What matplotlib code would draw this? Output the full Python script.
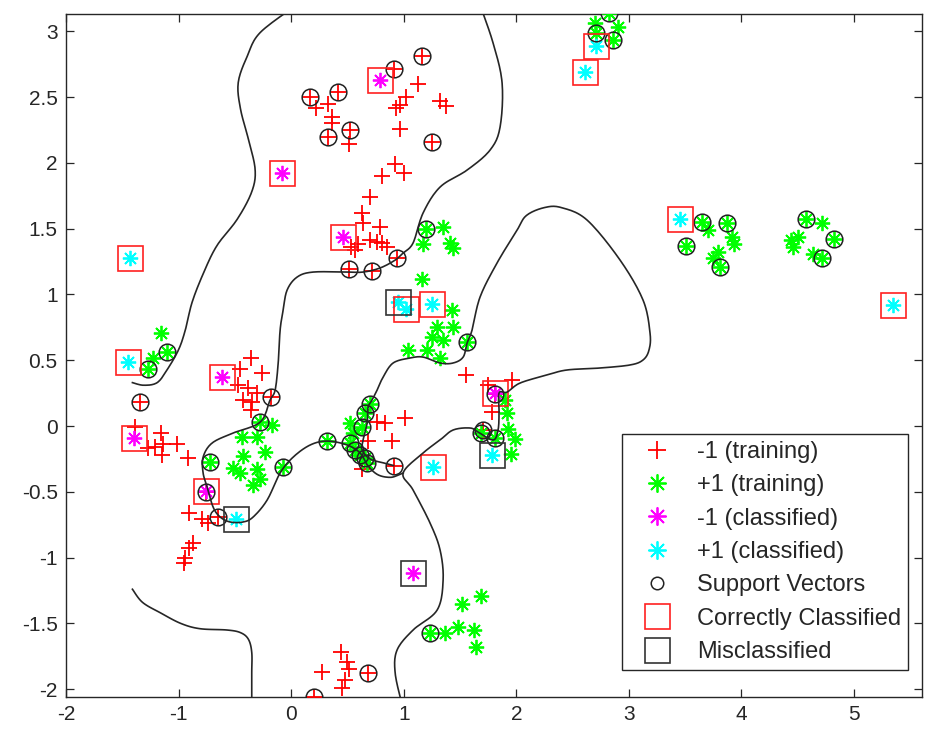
import matplotlib
matplotlib.use("Agg")
import matplotlib.pyplot as plt
from matplotlib.lines import Line2D
import numpy as np

# ---------------- data ----------------
# -1 training points
red_x = [0.17, 0.42, 0.33, 0.52, 0.91, 1.16, 1.25, 0.22, 0.33, 0.36, 0.36, 0.51, 1.13, 1.02, 0.93, 0.97,
         0.97, 1.32, 1.38, 0.92, 1.00, 0.81, 0.70, 0.63, 0.64, 0.79, 0.70, 0.76, 0.81, 0.85, 0.53, 0.57,
         0.59, 0.94, 0.51, 0.72,
         -0.36, -0.45, -0.26, -0.47, -0.38, -0.30, -0.43, -0.35, -0.36, -0.18,
         -1.39, -1.16, -1.27, -1.21, -1.14, -1.01, -1.15, -0.92, -1.34,
         -0.91, -0.79, -0.74, -0.65, -0.87, -0.91, -0.94, -0.95, -0.76,
         0.83, 1.01, 0.90, 0.68, 0.63, 0.91, 0.76,
         1.55, 1.96, 1.75, 1.78, 1.70, 1.81,
         0.44, 0.27, 0.50, 0.51, 0.48, 0.45, 0.68, 0.20]
red_y = [2.50, 2.54, 2.20, 2.25, 2.71, 2.81, 2.16, 2.42, 2.45, 2.35, 2.30, 2.14, 2.60, 2.50, 2.42, 2.44,
         2.26, 2.47, 2.43, 1.99, 1.92, 1.90, 1.74, 1.62, 1.54, 1.51, 1.41, 1.40, 1.39, 1.36, 1.36, 1.34,
         1.38, 1.28, 1.19, 1.18,
         0.52, 0.43, 0.40, 0.31, 0.29, 0.25, 0.20, 0.18, 0.12, 0.22,
         -0.01, -0.05, -0.17, -0.16, -0.14, -0.14, -0.22, -0.24, 0.18,
         -0.66, -0.71, -0.74, -0.69, -0.89, -0.93, -1.00, -1.04, -0.50,
         0.02, 0.06, -0.11, -0.11, -0.33, -0.30, 0.03,
         0.39, 0.35, 0.31, 0.11, -0.03, 0.24,
         -1.72, -1.87, -1.79, -1.85, -1.93, -1.99, -1.88, -2.06]

# +1 training points
green_x = [2.82, 2.71, 2.86, 2.70, 2.90,
           3.65, 3.87, 3.51, 3.81, 3.70, 3.92, 3.93, 3.79, 3.75,
           4.57, 4.82, 4.72, 4.72, 4.50, 4.46, 4.64, 4.44,
           1.20, 1.35, 1.41, 1.44, 1.17, 1.16,
           1.43, 1.44, 1.30, 1.25, 1.35, 1.04, 1.21, 1.32, 1.56,
           -1.16, -1.27, -1.10, -1.23,
           -0.44, -0.30, -0.17, -0.23, -0.43, -0.52, -0.45, -0.30, -0.28, -0.34, -0.28, -0.72, -0.07,
           0.70, 0.66, 0.63, 0.32, 0.52, 0.57, 0.61, 0.66, 0.67, 0.52, 0.55,
           1.69, 1.81, 1.92, 1.93, 1.99, 1.95, 1.90,
           1.23, 1.37, 1.48, 1.62, 1.64, 1.52, 1.69]
green_y = [3.14, 2.99, 2.93, 3.06, 3.03,
           1.55, 1.54, 1.37, 1.21, 1.49, 1.44, 1.38, 1.32, 1.28,
           1.57, 1.42, 1.28, 1.54, 1.44, 1.36, 1.31, 1.41,
           1.50, 1.51, 1.39, 1.35, 1.38, 1.12,
           0.88, 0.75, 0.75, 0.68, 0.65, 0.58, 0.58, 0.52, 0.64,
           0.71, 0.43, 0.56, 0.52,
           -0.08, -0.08, 0.01, -0.20, -0.23, -0.32, -0.36, -0.33, -0.40, -0.45, 0.03, -0.27, -0.31,
           0.17, 0.10, -0.01, -0.11, -0.13, -0.18, -0.22, -0.24, -0.28, 0.02, -0.05,
           -0.05, -0.09, 0.10, -0.02, -0.10, -0.21, 0.20,
           -1.57, -1.57, -1.53, -1.55, -1.68, -1.35, -1.29]

# support vectors
sv_x = [0.17, 0.42, 0.33, 0.52, 0.91, 1.16, 1.25, 0.94, 0.51, 0.72, -0.18, -1.34, -0.65, -0.76,
        0.91, 1.70, 1.81, 0.68, 0.20,
        2.82, 2.71, 2.86, 3.65, 3.87, 3.51, 3.81, 4.57, 4.82, 4.72,
        1.20, 1.56, -1.27, -1.10, -0.28, -0.72, -0.07,
        0.70, 0.66, 0.63, 0.32, 0.52, 0.57, 0.61, 0.66, 0.67, 1.69, 1.81, 1.23]
sv_y = [2.50, 2.54, 2.20, 2.25, 2.71, 2.81, 2.16, 1.28, 1.19, 1.18, 0.22, 0.18, -0.69, -0.50,
        -0.30, -0.03, 0.24, -1.88, -2.06,
        3.14, 2.99, 2.93, 1.55, 1.54, 1.37, 1.21, 1.57, 1.42, 1.28,
        1.50, 0.64, 0.43, 0.56, 0.03, -0.27, -0.31,
        0.17, 0.10, -0.01, -0.11, -0.13, -0.18, -0.22, -0.24, -0.28, -0.05, -0.09, -1.57]

# classified points
neg_cls_x = [0.79, -0.08, 0.46, -0.61, -1.40, -0.76, 1.08, 1.81]
neg_cls_y = [2.63, 1.92, 1.44, 0.37, -0.09, -0.49, -1.12, 0.25]
neg_cls_ok = [True, True, True, True, True, True, False, True]
pos_cls_x = [-1.43, -1.45, -0.49, 0.95, 1.02, 1.25, 1.26, 1.78, 2.61, 2.71, 3.45, 5.35]
pos_cls_y = [1.28, 0.49, -0.71, 0.94, 0.89, 0.93, -0.31, -0.22, 2.69, 2.89, 1.57, 0.92]
pos_cls_ok = [True, True, False, False, True, True, True, False, True, True, True, True]

# decision boundary (traced vertices)
bnd_a_x = [0.05, -0.275, -0.39, -0.47, -0.45, -0.38, -0.32, -0.35, -0.48, -0.66, -0.78, -0.88, -0.94,
           -1.00, -1.10, -1.19, -1.31, -1.41]
bnd_a_y = [3.20, 2.99, 2.81, 2.61, 2.41, 2.18, 1.95, 1.78, 1.57, 1.37, 1.16, 0.94, 0.73,
           0.58, 0.43, 0.33, 0.31, 0.33]
bnd_b_x = [1.678, 1.794, 1.874, 1.856, 1.767, 1.563, 1.323, 1.172, 1.083, 0.995, 0.924, 0.790,
           0.639, 0.497, 0.195, 0.053, -0.036, -0.071, -0.098, -0.115, -0.142, -0.187, -0.275, -0.515,
           -0.702, -0.782, -0.782, -0.746, -0.693, -0.631, -0.542, -0.426, -0.337, -0.213, -0.098,
           0.018, 0.169, 0.320, 0.497, 0.613, 0.68, 0.77, 0.88, 0.96, 0.995]
bnd_b_y = [3.20, 2.910, 2.606, 2.272, 2.097, 1.945, 1.816, 1.619, 1.391, 1.315, 1.261, 1.201,
           1.170, 1.170, 1.170, 1.132, 1.033, 0.881, 0.729, 0.479, 0.274, 0.198, 0.030, -0.053,
           -0.129, -0.236, -0.357, -0.464, -0.616, -0.691, -0.729, -0.729, -0.691, -0.562, -0.357,
           -0.236, -0.144, -0.114, -0.144, -0.205, -0.30, -0.37, -0.39, -0.37, -0.357]
bnd_c_x = [0.986, 0.924, 0.941, 1.083, 1.297, 1.350, 1.323, 1.234, 1.083, 0.995, 1.172, 1.323,
           1.439, 1.590, 1.661, 1.794, 1.838, 1.847, 1.847, 1.918, 2.034, 2.274, 2.451, 2.744, 3.011,
           3.126, 3.179, 3.188, 3.126, 2.922, 2.629, 2.40, 2.25, 2.09, 2.007, 1.829, 1.678, 1.607,
           1.563, 1.528, 1.439, 1.323, 1.172, 1.057, 0.906, 0.817, 0.764, 0.719, 0.684, 0.675, 0.639,
           0.631, 0.70, 0.82, 0.91]
bnd_c_y = [-2.12, -1.877, -1.702, -1.550, -1.398, -1.170, -0.942, -0.737, -0.486, -0.357, -0.205,
           -0.106, -0.030, -0.015, -0.046, -0.106, -0.030, 0.099, 0.251, 0.258, 0.327, 0.388, 0.426,
           0.441, 0.464, 0.502, 0.578, 0.707, 0.957, 1.261, 1.565, 1.66, 1.66, 1.60, 1.489, 1.239,
           0.980, 0.729, 0.631, 0.524, 0.479, 0.479, 0.524, 0.517, 0.479, 0.372, 0.274, 0.198, 0.144,
           0.023, -0.106, -0.182, -0.25, -0.28, -0.30]
bnd_d_x = [-1.41, -1.32, -1.16, -0.98, -0.81, -0.57, -0.45, -0.38, -0.35, -0.35, -0.35]
bnd_d_y = [-1.24, -1.34, -1.42, -1.50, -1.54, -1.55, -1.57, -1.62, -1.72, -1.88, -2.10]

x_ticks = [-2, -1, 0, 1, 2, 3, 4, 5]
y_ticks = [-2, -1.5, -1, -0.5, 0, 0.5, 1, 1.5, 2, 2.5, 3]
y_tick_labels = ["-2", "-1.5", "-1", "-0.5", "0", "0.5", "1", "1.5", "2", "2.5", "3"]


def smooth_path(xs, ys, n=12):
    """Catmull-Rom rendering of a traced polyline (drawing only)."""
    p = np.column_stack([xs, ys]).astype(float)
    p = np.vstack([p[0], p, p[-1]])
    out = []
    for i in range(1, len(p) - 2):
        p0, p1, p2, p3 = p[i - 1], p[i], p[i + 1], p[i + 2]
        t = np.linspace(0, 1, n, endpoint=False)[:, None]
        out.append(0.5 * ((2 * p1) + (-p0 + p2) * t + (2 * p0 - 5 * p1 + 4 * p2 - p3) * t ** 2
                          + (-p0 + 3 * p1 - 3 * p2 + p3) * t ** 3))
    out.append(p[-2][None, :])
    q = np.vstack(out)
    return q[:, 0], q[:, 1]


# ---------------- plot ----------------
plt.rcParams["font.family"] = ["Liberation Sans", "DejaVu Sans"]
fig = plt.figure(figsize=(9.25, 7.4), dpi=100)
ax = fig.add_axes([66 / 925, 43 / 740, 856 / 925, 683 / 740])

ast = (8, 2, 0)
ax.plot(red_x, red_y, ls="none", marker="+", color="#ff0000", ms=11, mew=1.3, zorder=3)
ax.plot(green_x, green_y, ls="none", marker=ast, color="#00ff00", ms=11, mew=1.3, zorder=3)
ax.plot(neg_cls_x, neg_cls_y, ls="none", marker=ast, color="#ff00ff", ms=11, mew=1.3, zorder=4)
ax.plot(pos_cls_x, pos_cls_y, ls="none", marker=ast, color="#00ffff", ms=11, mew=1.3, zorder=4)
ax.plot(sv_x, sv_y, ls="none", marker="o", mfc="none", mec="#222222", ms=12, mew=1.1, zorder=5)

cls_x = neg_cls_x + pos_cls_x
cls_y = neg_cls_y + pos_cls_y
cls_ok = neg_cls_ok + pos_cls_ok
ok_x = [x for x, o in zip(cls_x, cls_ok) if o]
ok_y = [y for y, o in zip(cls_y, cls_ok) if o]
bad_x = [x for x, o in zip(cls_x, cls_ok) if not o]
bad_y = [y for y, o in zip(cls_y, cls_ok) if not o]
ax.plot(ok_x, ok_y, ls="none", marker="s", mfc="none", mec="#ff2020", ms=18, mew=1.2, zorder=6)
ax.plot(bad_x, bad_y, ls="none", marker="s", mfc="none", mec="#333333", ms=18, mew=1.2, zorder=6)

for bx, by in [(bnd_a_x, bnd_a_y), (bnd_b_x, bnd_b_y), (bnd_c_x, bnd_c_y), (bnd_d_x, bnd_d_y)]:
    sx, sy = smooth_path(bx, by)
    ax.plot(sx, sy, color="#262626", lw=1.2, solid_joinstyle="round", zorder=7)

ax.set_xlim(-2, 5.604)
ax.set_ylim(-2.059, 3.131)
ax.set_xticks(x_ticks)
ax.set_xticklabels([str(t) for t in x_ticks])
ax.set_yticks(y_ticks)
ax.set_yticklabels(y_tick_labels)
ax.tick_params(direction="in", length=6, width=0.9, top=True, right=True, labelsize=15,
               colors="#262626", pad=6)
for s in ax.spines.values():
    s.set_color("#262626")
    s.set_linewidth(1.0)

handles = [
    Line2D([], [], ls="none", marker="+", color="#ff0000", ms=13, mew=1.3),
    Line2D([], [], ls="none", marker=ast, color="#00ff00", ms=13, mew=1.3),
    Line2D([], [], ls="none", marker=ast, color="#ff00ff", ms=13, mew=1.3),
    Line2D([], [], ls="none", marker=ast, color="#00ffff", ms=13, mew=1.3),
    Line2D([], [], ls="none", marker="o", mfc="none", mec="#222222", ms=9, mew=1.1),
    Line2D([], [], ls="none", marker="s", mfc="none", mec="#ff2020", ms=18, mew=1.2),
    Line2D([], [], ls="none", marker="s", mfc="none", mec="#333333", ms=18, mew=1.2),
]
labels = ["-1 (training)", "+1 (training)", "-1 (classified)", "+1 (classified)",
          "Support Vectors", "Correctly Classified", "Misclassified"]
leg = ax.legend(handles, labels, loc="lower right", bbox_to_anchor=((908 - 66) / 856, 27 / 683),
                fontsize=17, frameon=True, fancybox=False, framealpha=1, edgecolor="#262626",
                borderpad=0.3, handlelength=2.3, handletextpad=0.55, labelspacing=0.48,
                borderaxespad=0)
leg.get_frame().set_linewidth(1.0)
for t in leg.get_texts():
    t.set_color("#262626")

fig.savefig("out.png", dpi=100)
